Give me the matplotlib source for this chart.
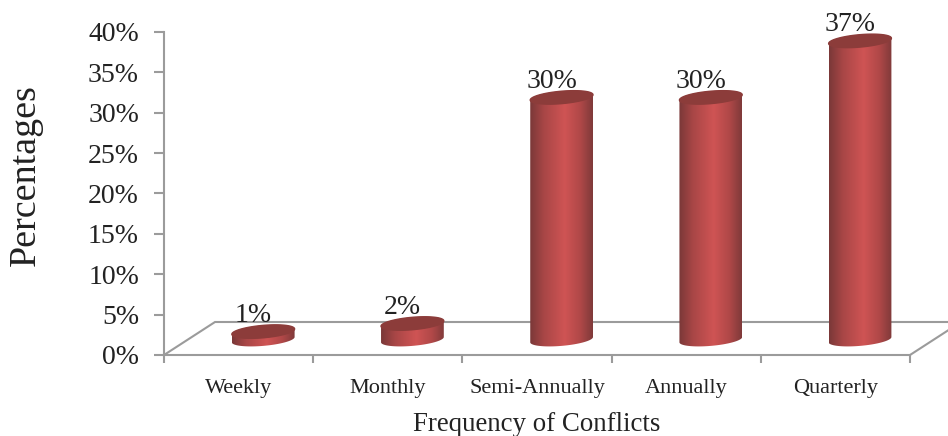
import numpy as np
import matplotlib
matplotlib.use("Agg")
import matplotlib.pyplot as plt
from matplotlib.colors import LinearSegmentedColormap
from matplotlib.patches import Polygon

categories = ["Weekly", "Monthly", "Semi-Annually", "Annually", "Quarterly"]
values = [1, 2, 30, 30, 37]
y_ticks = [0, 5, 10, 15, 20, 25, 30, 35, 40]

W, H = 948, 436
L, R, T, B = 164, 910, 32, 355
GRAY = "#9b9b9b"

plt.rcParams["font.family"] = ["Liberation Serif", "DejaVu Serif"]
fig = plt.figure(figsize=(W / 100, H / 100), dpi=100)
ax = fig.add_axes([L / W, 1 - B / H, (R - L) / W, (B - T) / H])
ax.set_xlim(-0.5, 4.5)
ax.set_ylim(0, 40)

sx = (R - L) / 5      # px per category
sy = (B - T) / 40     # px per percent

# axes, ticks
for s in ("top", "right"):
    ax.spines[s].set_visible(False)
for s in ("left", "bottom"):
    ax.spines[s].set_color(GRAY)
    ax.spines[s].set_linewidth(1.5)
ax.set_yticks(y_ticks)
ax.set_yticklabels([f"{v}%" for v in y_ticks], fontsize=20, color="#222222")
ax.set_xticks(np.arange(-0.5, 5, 1))
ax.set_xticklabels([])
ax.set_xticks(np.arange(5), minor=True)
ax.set_xticklabels(categories, minor=True, fontsize=16, color="#222222")
ax.tick_params(axis="y", length=7, width=1.5, color=GRAY, pad=11)
ax.tick_params(axis="x", which="major", length=6, width=1.5, color=GRAY)
ax.tick_params(axis="x", which="minor", length=0, pad=17)

# floor in perspective
dx, dy = 51 / sx, 33 / sy
ax.plot([-0.5, -0.5 + dx, 4.5 + dx, 4.5], [0, dy, dy, 0],
        color=GRAY, lw=1.5, clip_on=False, zorder=1, solid_joinstyle="miter")

# cylinders
cmap = LinearSegmentedColormap.from_list(
    "cyl", [(0, "#7a3838"), (0.22, "#a84646"), (0.55, "#cf5454"),
            (0.8, "#b04848"), (1, "#7f3a3a")])
grad = np.linspace(0, 1, 256).reshape(1, -1)
base = 1.9           # cylinder base centre above the axis, percent
off = 0.165          # cylinder centre shift to the back, categories
hw = 31.5 / sx       # half width
tilt = np.deg2rad(5)
t_upper = np.linspace(0, np.pi, 61)
t_lower = np.linspace(np.pi, 2 * np.pi, 61)


def ellipse(cx, cy, t):
    ex, ey = 31.5 * np.cos(t), 6.2 * np.sin(t)
    px = ex * np.cos(tilt) - ey * np.sin(tilt)
    py = ex * np.sin(tilt) + ey * np.cos(tilt)
    return cx + px / sx, cy + py / sy


for i, v in enumerate(values):
    c = i + off
    top = base + v
    xu, yu = ellipse(c, top, t_upper)
    xl, yl = ellipse(c, top, t_lower)
    xb, yb = ellipse(c, base, t_lower)
    # body outline: lower half of the base, then upper half of the top
    xs = np.r_[xb, xu]
    ys = np.r_[yb, yu]
    body = Polygon(np.c_[xs, ys], closed=True, fc="none", ec="none",
                   transform=ax.transData, clip_on=False)
    ax.add_patch(body)
    im = ax.imshow(grad, extent=[c - hw, c + hw, base - 2, top + 2], cmap=cmap,
                   aspect="auto", zorder=3, interpolation="bilinear")
    im.set_clip_path(body)
    ax.fill(np.r_[xu, xl], np.r_[yu, yl], color="#8c3c3a", zorder=4, clip_on=False)
    ax.text(c - 10 / sx, top + 16 / sy, f"{v}%", ha="center", va="center",
            fontsize=20, color="#222222", zorder=5, clip_on=False)

ax.set_xlim(-0.5, 4.5)
ax.set_ylim(0, 40)

fig.text(26 / W, 1 - 175 / H, "Percentages", rotation=90, ha="center", va="center",
         fontsize=27.4, color="#222222")
fig.text(537 / W, 1 - 424 / H, "Frequency of Conflicts", ha="center", va="center",
         fontsize=19.4, color="#222222")

fig.savefig("out.png", dpi=100)
